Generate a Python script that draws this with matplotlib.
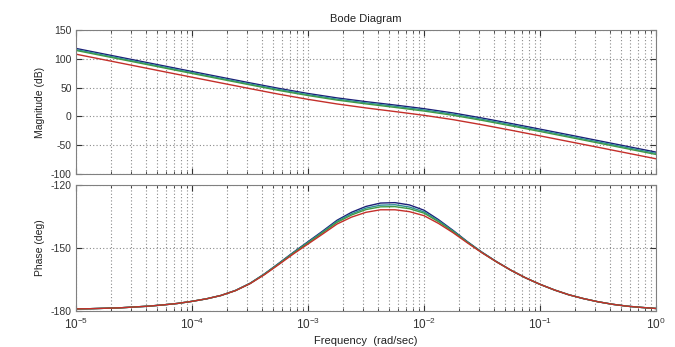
import matplotlib
matplotlib.use('Agg')
import matplotlib.pyplot as plt
import numpy as np
from matplotlib.ticker import LogLocator, NullFormatter

plt.rcParams['font.family'] = ['Liberation Sans', 'DejaVu Sans']
plt.rcParams['mathtext.fontset'] = 'custom'
plt.rcParams['mathtext.rm'] = 'Liberation Sans'
plt.rcParams['mathtext.it'] = 'Liberation Sans'
plt.rcParams['axes.unicode_minus'] = False

#%% magnitude at quarter-decade steps (1e-5 .. 1e0 rad/sec)
mag_exp = [-5.0, -4.75, -4.5, -4.25, -4.0, -3.75, -3.5, -3.25, -3.0, -2.75,
           -2.5, -2.25, -2.0, -1.75, -1.5, -1.25, -1.0, -0.75, -0.5, -0.25, 0.0]

mag_navy = [118.0, 108.0, 98.0, 88.0, 78.0, 68.1, 58.2, 48.6, 39.8, 32.1,
            25.6, 19.7, 13.4, 6.0, -2.8, -12.3, -22.1, -32.0, -42.0, -52.0, -62.0]
mag_teal = [116.0, 106.0, 96.0, 86.0, 76.0, 66.1, 56.2, 46.6, 37.8, 30.0,
            23.5, 17.5, 11.2, 3.8, -5.0, -14.5, -24.3, -34.2, -44.2, -54.2, -64.2]
mag_green = [114.5, 104.5, 94.5, 84.5, 74.5, 64.6, 54.7, 45.0, 36.2, 28.3,
             21.7, 15.6, 9.3, 1.9, -6.9, -16.4, -26.2, -36.1, -46.1, -56.1, -66.1]
mag_red = [108.0, 98.0, 88.0, 78.0, 68.0, 58.1, 48.2, 38.5, 29.6, 21.6,
           14.7, 8.4, 1.9, -5.6, -14.5, -24.0, -33.8, -43.7, -53.6, -63.6, -73.6]

#%% phase at eighth-decade steps
ph_exp = [-5.0, -4.875, -4.75, -4.625, -4.5, -4.375, -4.25, -4.125,
          -4.0, -3.875, -3.75, -3.625, -3.5, -3.375, -3.25, -3.125,
          -3.0, -2.875, -2.75, -2.625, -2.5, -2.375, -2.25, -2.125,
          -2.0, -1.875, -1.75, -1.625, -1.5, -1.375, -1.25, -1.125,
          -1.0, -0.875, -0.75, -0.625, -0.5, -0.375, -0.25, -0.125, 0.0]

ph_navy = [-179.0, -178.9, -178.7, -178.5, -178.1, -177.7, -177.1, -176.4,
           -175.4, -174.2, -172.6, -170.2, -166.8, -162.3, -157.2, -152.0,
           -147.0, -142.0, -136.8, -133.0, -130.2, -128.6, -128.4, -129.5,
           -132.0, -136.5, -141.6, -147.0, -152.0, -156.5, -160.6, -164.2,
           -167.3, -170.0, -172.3, -174.1, -175.6, -176.8, -177.7, -178.3, -178.8]
ph_teal = [-179.0, -178.9, -178.7, -178.5, -178.1, -177.7, -177.1, -176.4,
           -175.4, -174.2, -172.6, -170.2, -166.9, -162.4, -157.4, -152.2,
           -147.3, -142.4, -137.3, -133.7, -131.0, -129.6, -129.4, -130.5,
           -132.8, -137.0, -141.9, -147.2, -152.1, -156.5, -160.6, -164.2,
           -167.3, -170.0, -172.3, -174.1, -175.6, -176.8, -177.7, -178.3, -178.8]
ph_green = [-179.0, -178.9, -178.7, -178.5, -178.1, -177.7, -177.1, -176.4,
            -175.4, -174.2, -172.6, -170.3, -166.9, -162.5, -157.5, -152.4,
            -147.6, -142.8, -137.8, -134.3, -131.7, -130.4, -130.3, -131.3,
            -133.4, -137.5, -142.2, -147.3, -152.2, -156.6, -160.6, -164.2,
            -167.3, -170.0, -172.3, -174.1, -175.6, -176.8, -177.7, -178.3, -178.8]
ph_red = [-179.0, -178.9, -178.7, -178.5, -178.1, -177.7, -177.1, -176.4,
          -175.4, -174.2, -172.6, -170.3, -167.0, -162.7, -157.8, -152.8,
          -148.1, -143.4, -138.6, -135.3, -133.0, -131.8, -131.8, -132.7,
          -134.6, -138.3, -142.7, -147.6, -152.3, -156.6, -160.6, -164.2,
          -167.3, -170.0, -172.3, -174.1, -175.6, -176.8, -177.7, -178.3, -178.8]

colors = ['#1c1f78', '#2f8f96', '#3f9a45', '#c42f2a']
mag_series = [mag_navy, mag_teal, mag_green, mag_red]
ph_series = [ph_navy, ph_teal, ph_green, ph_red]

mag_freq = 10.0 ** np.array(mag_exp)
ph_freq = 10.0 ** np.array(ph_exp)

#%% layout
fig = plt.figure(figsize=(6.75, 3.47), dpi=100)
ax_mag = fig.add_axes([76 / 675, 1 - 174 / 347, 580 / 675, 144 / 347])
ax_ph = fig.add_axes([76 / 675, 1 - 311 / 347, 580 / 675, 126 / 347])

frame = '#808080'
grid_style = dict(linestyle=(0, (1, 2)), color='#8a8a8a', linewidth=0.8)
for ax in (ax_mag, ax_ph):
    ax.set_xscale('log')
    ax.set_xlim(1e-5, 1e0)
    ax.xaxis.set_major_locator(LogLocator(base=10, numticks=10))
    ax.xaxis.set_minor_locator(LogLocator(base=10, subs=np.arange(2, 10), numticks=10))
    ax.grid(True, which='major', axis='both', **grid_style)
    ax.grid(True, which='minor', axis='x', **grid_style)
    ax.tick_params(which='both', direction='in', top=True, right=True,
                   labelsize=7.5, colors='#333333', pad=3)
    ax.tick_params(which='major', length=4)
    ax.tick_params(which='minor', length=2)
    for s in ax.spines.values():
        s.set_color(frame)
        s.set_linewidth(0.8)

for ys, c in zip(mag_series, colors):
    ax_mag.plot(mag_freq, ys, color=c, linewidth=1.0)
for ys, c in zip(ph_series, colors):
    ax_ph.plot(ph_freq, ys, color=c, linewidth=1.0)

ax_mag.set_ylim(-100, 150)
ax_mag.set_yticks([-100, -50, 0, 50, 100, 150])
ax_mag.xaxis.set_major_formatter(NullFormatter())
ax_mag.xaxis.set_minor_formatter(NullFormatter())
ax_mag.set_ylabel('Magnitude (dB)', fontsize=7.5, color='#222222', labelpad=4)
ax_mag.set_title('Bode Diagram', fontsize=8, color='#222222', pad=6)

ax_ph.set_ylim(-180, -120)
ax_ph.set_yticks([-180, -150, -120])
ax_ph.xaxis.set_minor_formatter(NullFormatter())
ax_ph.tick_params(axis='x', labelsize=8.5, pad=4)
ax_ph.set_ylabel('Phase (deg)', fontsize=7.5, color='#222222', labelpad=4)
ax_ph.set_xlabel('Frequency  (rad/sec)', fontsize=8, color='#222222', labelpad=3)

fig.savefig('out.png', dpi=100)
